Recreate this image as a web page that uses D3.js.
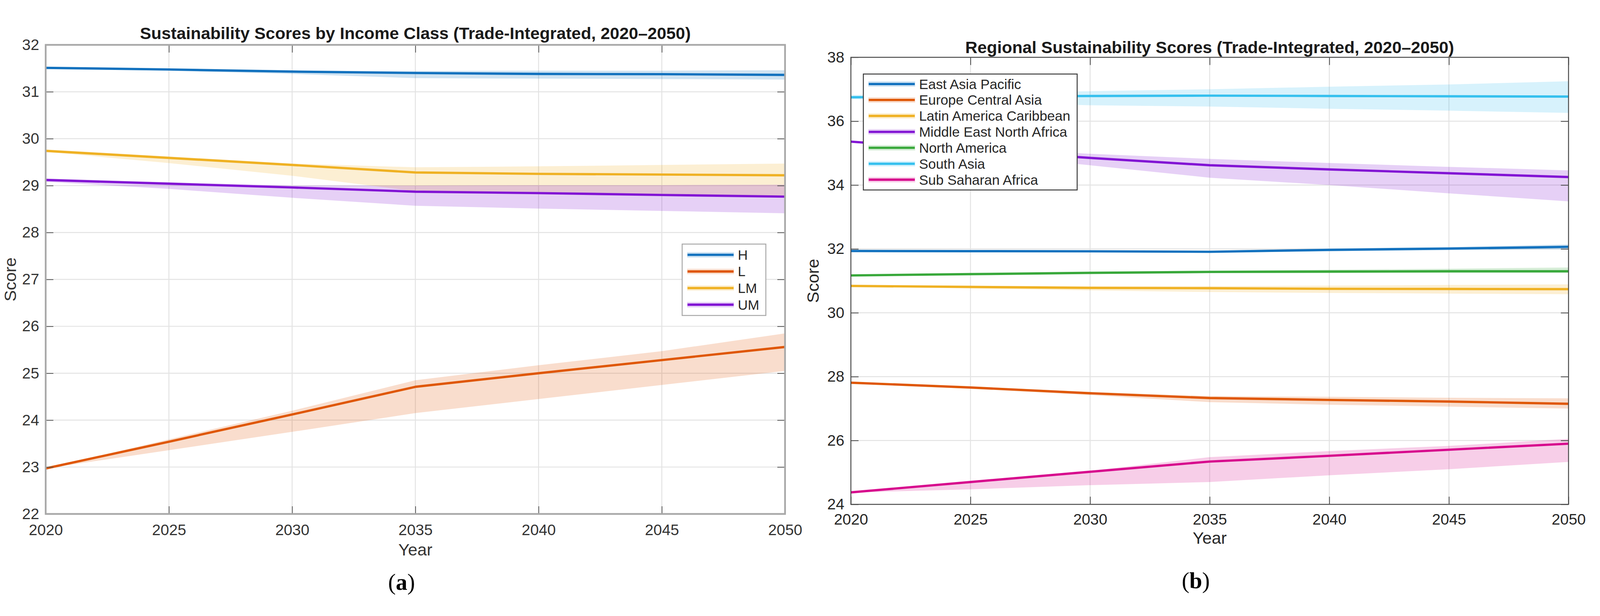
<!DOCTYPE html>
<html>
<head>
<meta charset="utf-8">
<script src="https://cdn.jsdelivr.net/npm/d3@7"></script>
<style>
  html, body { margin: 0; padding: 0; background: #fff; overflow: hidden; }
  svg { display: block; }
  text { font-family: "Liberation Sans", Arial, sans-serif; }
</style>
</head>
<body>
<div id="chart"></div>
<script>
var years = [2020, 2025, 2030, 2035, 2040, 2045, 2050]

// (a) income classes
var incomeNames = ["H", "L", "LM", "UM"]
var incomeColors = ["#1171be", "#df5705", "#efb123", "#8214d4"]
var incomeTicks = [22, 23, 24, 25, 26, 27, 28, 29, 30, 31, 32]
var incomeMean = [
  [31.51, 31.475, 31.43, 31.40, 31.38, 31.375, 31.36],
  [22.97, 23.54, 24.12, 24.71, 25.00, 25.28, 25.56],
  [29.74, 29.59, 29.44, 29.28, 29.25, 29.235, 29.22],
  [29.12, 29.04, 28.96, 28.87, 28.84, 28.80, 28.765]
]
var incomeLow = [
  [31.50, 31.45, 31.38, 31.29, 31.28, 31.27, 31.26],
  [22.97, 23.36, 23.75, 24.15, 24.45, 24.75, 25.05],
  [29.72, 29.48, 29.21, 28.88, 28.84, 28.80, 28.76],
  [29.08, 28.93, 28.74, 28.57, 28.51, 28.46, 28.41]
]
var incomeHigh = [
  [31.53, 31.49, 31.45, 31.44, 31.45, 31.45, 31.46],
  [22.97, 23.59, 24.20, 24.85, 25.17, 25.47, 25.85],
  [29.77, 29.62, 29.47, 29.39, 29.41, 29.44, 29.47],
  [29.15, 29.07, 29.00, 29.00, 29.01, 29.01, 29.02]
]

// (b) regions
var regionNames = ["East Asia Pacific", "Europe Central Asia", "Latin America Caribbean",
  "Middle East North Africa", "North America", "South Asia", "Sub Saharan Africa"]
var regionColors = ["#1171be", "#df5705", "#efb123", "#8214d4", "#38a83a", "#35c0ee", "#d7098d"]
var regionTicks = [24, 26, 28, 30, 32, 34, 36, 38]
var regionMean = [
  [31.935, 31.93, 31.925, 31.91, 31.97, 32.01, 32.065],
  [27.81, 27.66, 27.48, 27.33, 27.27, 27.22, 27.15],
  [30.84, 30.81, 30.78, 30.77, 30.75, 30.745, 30.74],
  [35.36, 35.10, 34.85, 34.62, 34.49, 34.37, 34.25],
  [31.17, 31.21, 31.25, 31.28, 31.29, 31.30, 31.30],
  [36.75, 36.77, 36.79, 36.80, 36.79, 36.78, 36.77],
  [24.375, 24.70, 25.02, 25.34, 25.52, 25.71, 25.90]
]
var regionLow = [
  [31.92, 31.91, 31.90, 31.88, 31.93, 31.96, 31.99],
  [27.79, 27.62, 27.42, 27.20, 27.12, 27.06, 27.00],
  [30.82, 30.76, 30.70, 30.65, 30.62, 30.60, 30.58],
  [35.33, 34.98, 34.62, 34.23, 34.00, 33.74, 33.49],
  [31.16, 31.19, 31.22, 31.24, 31.24, 31.25, 31.25],
  [36.69, 36.60, 36.50, 36.46, 36.39, 36.33, 36.26],
  [24.37, 24.47, 24.60, 24.70, 24.91, 25.10, 25.33]
]
var regionHigh = [
  [31.95, 31.95, 31.95, 31.94, 32.01, 32.06, 32.14],
  [27.83, 27.69, 27.52, 27.39, 27.37, 27.34, 27.32],
  [30.86, 30.84, 30.83, 30.83, 30.85, 30.87, 30.89],
  [35.38, 35.18, 34.98, 34.82, 34.69, 34.57, 34.46],
  [31.18, 31.23, 31.28, 31.32, 31.35, 31.38, 31.42],
  [36.82, 36.88, 36.94, 37.00, 37.08, 37.15, 37.25],
  [24.38, 24.72, 25.05, 25.48, 25.67, 25.83, 26.05]
]

var W = 4168, H = 1577
// viewBox so the figure always fits the viewport
var svg = d3.select("#chart").append("svg")
  .attr("viewBox", "0 0 " + W + " " + H)
  .attr("preserveAspectRatio", "xMidYMid meet")
  .style("width", "100vw").style("height", "100vh")
svg.append("rect").attr("width", W).attr("height", H).attr("fill", "#fff")

var panel = function (o) {
  var x = d3.scaleLinear().domain([2020, 2050]).range([o.left, o.right])
  var y = d3.scaleLinear().domain([o.yTicks[0], o.yTicks[o.yTicks.length - 1]]).range([o.bottom, o.top])
  var g = svg.append("g")
  var ph = o.bottom - o.top, pw = o.right - o.left

  g.append("clipPath").attr("id", "clip" + o.id)
    .append("rect").attr("x", o.left).attr("y", o.top).attr("width", pw).attr("height", ph)

  // grid
  var grid = g.append("g")
  grid.selectAll(".gx").data(years).enter().append("line")
    .attr("x1", function (d) { return x(d) }).attr("x2", function (d) { return x(d) })
    .attr("y1", o.top).attr("y2", o.bottom)
    .attr("stroke", "#e3e3e3").attr("stroke-width", 2.5)
  grid.selectAll(".gy").data(o.yTicks).enter().append("line")
    .attr("y1", function (d) { return y(d) }).attr("y2", function (d) { return y(d) })
    .attr("x1", o.left).attr("x2", o.right)
    .attr("stroke", "#e3e3e3").attr("stroke-width", 2.5)

  var plot = g.append("g").attr("clip-path", "url(#clip" + o.id + ")")
  var area = d3.area()
    .x(function (d, i) { return x(years[i]) })
    .y0(function (d) { return y(d[0]) })
    .y1(function (d) { return y(d[1]) })
  var line = d3.line()
    .x(function (d, i) { return x(years[i]) })
    .y(function (d) { return y(d) })

  o.names.forEach(function (n, k) {
    var band = o.low[k].map(function (v, i) { return [v, o.high[k][i]] })
    plot.append("path").attr("d", area(band))
      .attr("fill", o.colors[k]).attr("fill-opacity", 0.2).attr("stroke", "none")
  })
  o.names.forEach(function (n, k) {
    plot.append("path").attr("d", line(o.mean[k]))
      .attr("fill", "none").attr("stroke", o.colors[k]).attr("stroke-width", 6)
      .attr("stroke-linejoin", "round")
  })

  // axes, ticks point inwards
  var styleAxis = function (sel) {
    sel.select(".domain").remove()
    sel.selectAll(".tick line").attr("stroke", o.tickColor).attr("stroke-width", 2)
    sel.selectAll(".tick text").attr("fill", o.textColor)
    sel.attr("font-size", 40).attr("font-family", "'Liberation Sans', Arial, sans-serif")
  }
  g.append("g").attr("transform", "translate(0," + o.bottom + ")")
    .call(d3.axisBottom(x).tickValues(years).tickFormat(d3.format("d")).tickSizeInner(-20).tickSizeOuter(0).tickPadding(o.xPad))
    .call(styleAxis)
  g.append("g").attr("transform", "translate(0," + o.top + ")")
    .call(d3.axisTop(x).tickValues(years).tickFormat("").tickSizeInner(-20).tickSizeOuter(0))
    .call(styleAxis)
  g.append("g").attr("transform", "translate(" + o.left + ",0)")
    .call(d3.axisLeft(y).tickValues(o.yTicks).tickFormat(d3.format("d")).tickSizeInner(-20).tickSizeOuter(0).tickPadding(17))
    .call(styleAxis)
  g.append("g").attr("transform", "translate(" + o.right + ",0)")
    .call(d3.axisRight(y).tickValues(o.yTicks).tickFormat("").tickSizeInner(-20).tickSizeOuter(0))
    .call(styleAxis)

  g.append("rect").attr("x", o.left).attr("y", o.top).attr("width", pw).attr("height", ph)
    .attr("fill", "none").attr("stroke", o.boxColor).attr("stroke-width", o.boxWidth)

  // labels
  g.append("text").attr("x", (o.left + o.right) / 2).attr("y", o.titleY)
    .attr("text-anchor", "middle").attr("dominant-baseline", "central")
    .attr("font-size", 44).attr("font-weight", "bold").attr("fill", "#1a1a1a")
    .text(o.title)
  g.append("text").attr("x", (o.left + o.right) / 2).attr("y", o.yearY)
    .attr("text-anchor", "middle").attr("dominant-baseline", "central")
    .attr("font-size", 44).attr("fill", o.textColor).text("Year")
  g.append("text").attr("transform", "translate(" + o.scoreX + "," + (o.top + o.bottom) / 2 + ") rotate(-90)")
    .attr("text-anchor", "middle").attr("dominant-baseline", "central")
    .attr("font-size", 44).attr("fill", o.textColor).text("Score")

  var sub = g.append("text").attr("x", o.subX).attr("y", o.subY)
    .attr("text-anchor", "middle").attr("dominant-baseline", "central")
    .attr("font-size", 60).attr("fill", "#000")
    .style("font-family", "'Liberation Serif', 'Times New Roman', serif")
  sub.append("tspan").text("(")
  sub.append("tspan").attr("font-weight", "bold").text(o.sub)
  sub.append("tspan").text(")")

  // legend
  var lg = svg.append("g")
  lg.append("rect").attr("x", o.legX).attr("y", o.legY).attr("width", o.legW).attr("height", o.legH)
    .attr("fill", "#fff").attr("stroke", o.legBorder).attr("stroke-width", 2.5)
  o.names.forEach(function (n, k) {
    var ly = o.legY + o.legFirst + k * o.legStep
    lg.append("rect").attr("x", o.legX + 13).attr("y", ly - 7).attr("width", 122).attr("height", 14)
      .attr("fill", o.colors[k]).attr("fill-opacity", 0.2)
    lg.append("line").attr("x1", o.legX + 14).attr("x2", o.legX + 134).attr("y1", ly).attr("y2", ly)
      .attr("stroke", o.colors[k]).attr("stroke-width", 6)
    lg.append("text").attr("x", o.legX + 145).attr("y", ly)
      .attr("dominant-baseline", "central").attr("font-size", 36).attr("fill", "#262626")
      .text(n)
  })
}

panel({
  id: "a", left: 119, right: 2045, top: 103, bottom: 1325,
  yTicks: incomeTicks, names: incomeNames, colors: incomeColors,
  mean: incomeMean, low: incomeLow, high: incomeHigh,
  tickColor: "#555", textColor: "#333", boxColor: "#a8a8a8", boxWidth: 4.5,
  xPad: 27, titleY: 73, yearY: 1418, scoreX: 26, subX: 1046, subY: 1502, sub: "a",
  title: "Sustainability Scores by Income Class (Trade-Integrated, 2020\u20132050)",
  legX: 1777, legY: 622, legW: 218, legH: 186, legFirst: 28, legStep: 43.3, legBorder: "#a8a8a8"
})

panel({
  id: "b", left: 2216.5, right: 4086, top: 135.5, bottom: 1300,
  yTicks: regionTicks, names: regionNames, colors: regionColors,
  mean: regionMean, low: regionLow, high: regionHigh,
  tickColor: "#444", textColor: "#262626", boxColor: "#4d4d4d", boxWidth: 2.5,
  xPad: 24, titleY: 109, yearY: 1387, scoreX: 2117.5, subX: 3115, subY: 1498, sub: "b",
  title: "Regional Sustainability Scores (Trade-Integrated, 2020\u20132050)",
  legX: 2249, legY: 179, legW: 557, legH: 302, legFirst: 26, legStep: 41.55, legBorder: "#3a3a3a"
})
</script>
</body>
</html>
